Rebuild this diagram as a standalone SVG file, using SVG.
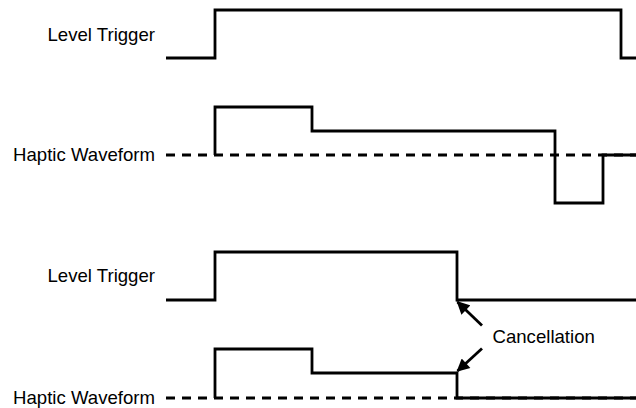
<svg xmlns="http://www.w3.org/2000/svg" width="636" height="408" viewBox="0 0 636 408">
<defs>
<style>
.lbl{font-family:"Liberation Sans",Arial,sans-serif;font-size:18.6px;fill:#000}
.sig{fill:none;stroke:#000;stroke-width:2.8;stroke-linejoin:miter;stroke-linecap:butt}
.base{fill:none;stroke:#000;stroke-width:2.8;stroke-dasharray:9 7}
.arr{fill:none;stroke:#000;stroke-width:2.8}
</style>
<marker id="ah" viewBox="0 0 10 10" refX="9" refY="5" markerWidth="5" markerHeight="4.6" orient="auto" markerUnits="strokeWidth">
<path d="M0,0 L10,5 L0,10 z" fill="#000"/>
</marker>
</defs>
<rect width="636" height="408" fill="#fff"/>
<g id="trigger1">
<text class="lbl" x="155" y="40.5" text-anchor="end">Level Trigger</text>
<path class="sig" d="M166,58 H215 V10 H621 V58 H636"/>
</g>
<g id="haptic1">
<text class="lbl" x="155" y="161" text-anchor="end">Haptic Waveform</text>
<path class="base" d="M166,155 H636"/>
<path class="sig" d="M215,155 V107 H312 V131 H555 V203 H603 V155 H636"/>
</g>
<g id="trigger2">
<text class="lbl" x="155" y="281.5" text-anchor="end">Level Trigger</text>
<path class="sig" d="M166,300 H215 V252 H457 V300 H636"/>
</g>
<g id="haptic2">
<text class="lbl" x="155" y="403.5" text-anchor="end">Haptic Waveform</text>
<path class="base" d="M166,398 H636"/>
<path class="sig" d="M215,398 V349 H312 V373 H457 V398 H636"/>
</g>
<g id="cancellation">
<text class="lbl" x="492.5" y="343">Cancellation</text>
</g>
<g id="connectors">
<line class="arr" x1="482" y1="325.5" x2="457.5" y2="302" marker-end="url(#ah)"/>
<line class="arr" x1="482" y1="348.5" x2="457.5" y2="371" marker-end="url(#ah)"/>
</g>
</svg>
